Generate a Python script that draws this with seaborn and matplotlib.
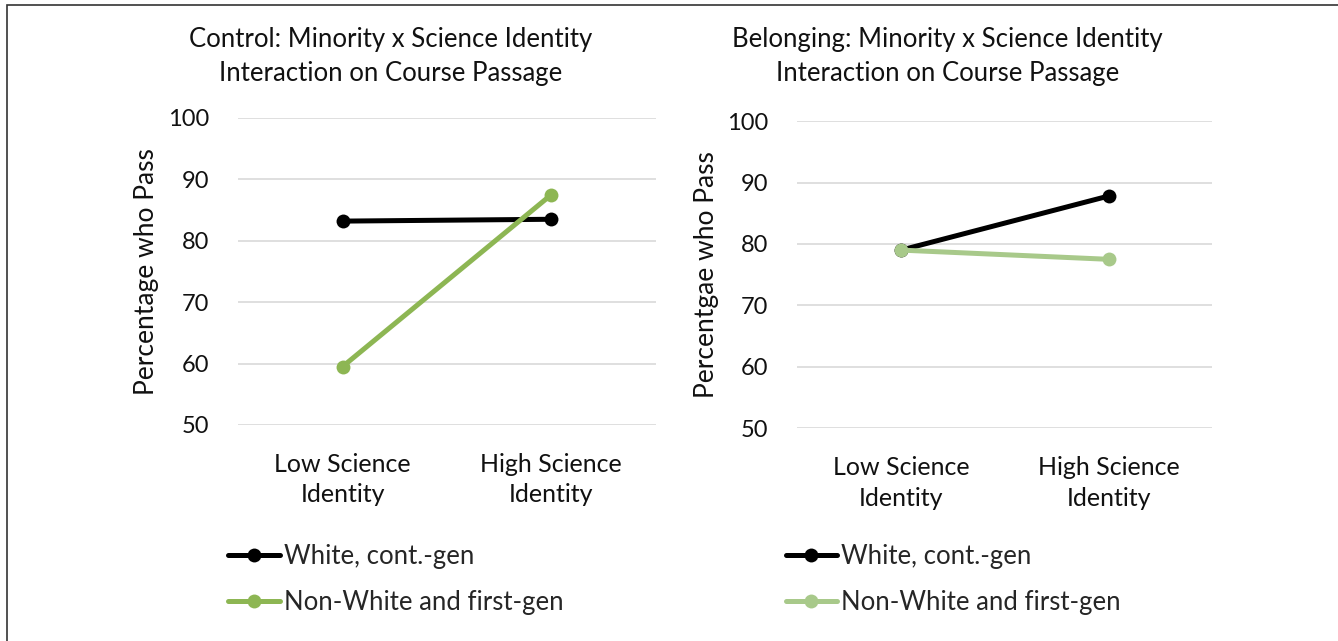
# plot.py
import seaborn as sns
import matplotlib.pyplot as plt
import pandas as pd
from matplotlib.patches import Rectangle

# Data
levels = ["Low Science\nIdentity", "High Science\nIdentity"]
groups = ["White, cont.-gen", "Non-White and first-gen"]
control_white = [83.2, 83.5]
control_nonwhite = [59.5, 87.5]
belonging_white = [79.0, 87.8]
belonging_nonwhite = [79.0, 77.5]
y_ticks = [50, 60, 70, 80, 90, 100]

sns.set_theme(style="white")
plt.rcParams["font.family"] = ["Lato", "DejaVu Sans"]


def make_df(white, nonwhite):
    return pd.DataFrame({
        "Identity": levels * 2,
        "Pass": white + nonwhite,
        "Group": [groups[0]] * 2 + [groups[1]] * 2,
    })


fig = plt.figure(figsize=(13.38, 6.41), dpi=100)
fig.patches.append(Rectangle((0.005, -0.01), 1.0, 1.002, transform=fig.transFigure,
                             fill=False, edgecolor="#333333", linewidth=1.2))

panels = [
    dict(pos=[0.178, 0.337, 0.312, 0.479], df=make_df(control_white, control_nonwhite),
         colors=["#000000", "#8db653"], title="Control: Minority x Science Identity\nInteraction on Course Passage",
         ylabel="Percentage who Pass", leg_x=0.163, title_x=0.292),
    dict(pos=[0.596, 0.332, 0.310, 0.479], df=make_df(belonging_white, belonging_nonwhite),
         colors=["#000000", "#a8c98a"], title="Belonging: Minority x Science Identity\nInteraction on Course Passage",
         ylabel="Percentgae who Pass", leg_x=0.5795, title_x=0.708),
]

for p in panels:
    ax = fig.add_axes(p["pos"])
    sns.lineplot(data=p["df"], x="Identity", y="Pass", hue="Group",
                 palette=p["colors"], marker="o", markersize=10,
                 markeredgewidth=0, linewidth=3.6, sort=False, ax=ax)
    ax.set_xlim(-0.5, 1.5)
    ax.set_ylim(50, 100)
    ax.set_yticks(y_ticks)
    ax.grid(axis="y", color="#d9d9d9", linewidth=1.2)
    ax.set_axisbelow(True)
    for s in ax.spines.values():
        s.set_visible(False)
    ax.tick_params(axis="both", length=0, labelsize=17, colors="#111111")
    ax.tick_params(axis="y", pad=21)
    ax.tick_params(axis="x", pad=20)
    for lab in ax.get_xticklabels():
        lab.set_fontsize(18)
        lab.set_linespacing(1.4)
    ax.set_xlabel("")
    ax.set_ylabel(p["ylabel"], fontsize=19, color="#111111", labelpad=6)
    fig.text(p["title_x"], 0.912, p["title"], ha="center", va="center",
             fontsize=18.5, color="#111111", linespacing=1.45)
    ax.legend(loc="upper left", bbox_to_anchor=(p["leg_x"], 0.168),
              bbox_transform=fig.transFigure, frameon=False, fontsize=18.5,
              handlelength=2.0, handletextpad=0.15, labelspacing=0.85,
              borderaxespad=0, title=None)

plt.savefig("out.png", dpi=100)
